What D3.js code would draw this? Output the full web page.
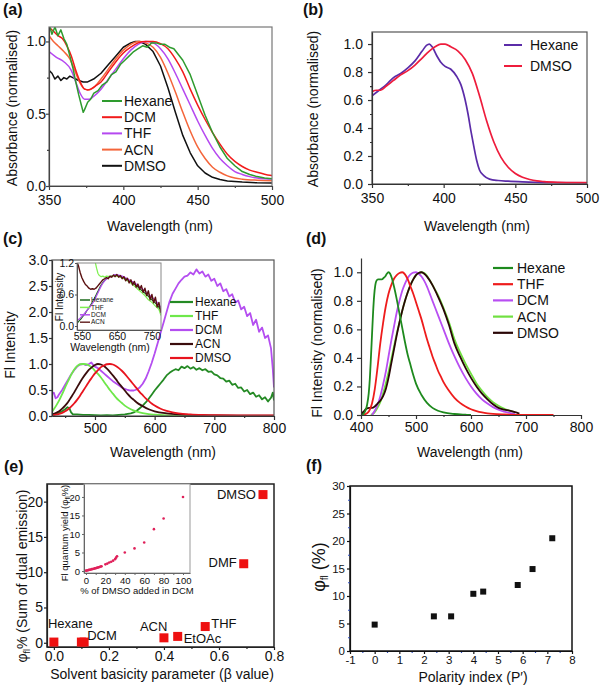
<!DOCTYPE html>
<html><head><meta charset="utf-8">
<script src="https://cdn.jsdelivr.net/npm/d3@7"></script>
<style>
body{margin:0;background:#fff;}
svg{display:block;font-family:"Liberation Sans",Arial,sans-serif;}
</style></head><body>
<svg id="chart" width="600" height="685"></svg>
<script>
// ---------------- DATA ----------------
// (a) absorbance, normalised  [wavelength nm, value]
const aHexane=[[350,1.12],[352,1.05],[354,1.1],[356,1.04],[358,1.08],[360,1.02],[362,0.98],[364,0.9],[366,0.82],[368,0.72],[370,0.63],[372,0.55],[373,0.51],[374,0.53],[376,0.58],[378,0.6],[380,0.64],[383,0.66],[386,0.7],[389,0.72],[392,0.77],[395,0.79],[398,0.84],[401,0.87],[404,0.9],[407,0.93],[410,0.95],[413,0.97],[416,0.96],[419,0.99],[422,0.99],[425,0.98],[428,0.98],[431,0.96],[434,0.95],[437,0.91],[440,0.87],[445,0.77],[450,0.63],[455,0.49],[460,0.37],[465,0.27],[470,0.19],[475,0.14],[480,0.1],[485,0.08],[490,0.065],[495,0.055],[500,0.05]];
const aDCM=[[350,1.1],[353,1.07],[356,1.04],[359,1.02],[362,0.97],[365,0.9],[368,0.8],[371,0.72],[374,0.67],[376,0.665],[378,0.67],[381,0.69],[385,0.72],[390,0.79],[395,0.86],[400,0.92],[405,0.96],[410,0.99],[415,1.0],[420,1.0],[425,0.985],[430,0.95],[435,0.88],[440,0.79],[445,0.67],[450,0.56],[455,0.46],[460,0.37],[465,0.29],[470,0.22],[475,0.17],[480,0.135],[485,0.11],[490,0.095],[495,0.082],[500,0.072]];
const aTHF=[[350,0.93],[355,0.89],[360,0.86],[365,0.8],[368,0.72],[371,0.64],[374,0.6],[377,0.6],[380,0.62],[385,0.67],[390,0.74],[395,0.81],[400,0.88],[405,0.94],[410,0.98],[415,1.0],[420,0.99],[425,0.95],[430,0.88],[435,0.78],[440,0.67],[445,0.56],[450,0.45],[455,0.35],[460,0.26],[465,0.19],[470,0.14],[475,0.1],[480,0.08],[485,0.065],[490,0.055],[495,0.05],[500,0.048]];
const aACN=[[350,1.04],[353,1.0],[356,0.97],[360,0.93],[364,0.88],[368,0.78],[371,0.71],[374,0.67],[377,0.665],[380,0.68],[385,0.74],[390,0.81],[395,0.88],[400,0.94],[405,0.98],[410,1.0],[415,0.99],[420,0.96],[425,0.89],[430,0.78],[435,0.65],[440,0.51],[445,0.38],[450,0.27],[455,0.19],[460,0.13],[465,0.095],[470,0.07],[475,0.055],[480,0.047],[490,0.04],[500,0.037]];
const aDMSO=[[350,0.8],[352,0.78],[354,0.74],[356,0.76],[358,0.73],[360,0.75],[362,0.74],[364,0.76],[366,0.75],[368,0.74],[370,0.73],[373,0.72],[376,0.72],[380,0.74],[385,0.78],[390,0.84],[395,0.9],[400,0.96],[405,0.99],[408,1.0],[411,1.0],[415,0.98],[420,0.93],[425,0.83],[430,0.68],[435,0.51],[440,0.35],[445,0.23],[450,0.14],[455,0.09],[460,0.06],[465,0.045],[470,0.035],[480,0.027],[490,0.022],[500,0.02]];

// (b) absorbance, normalised
const bHexane=[[350,0.63],[355,0.67],[360,0.71],[365,0.76],[370,0.79],[375,0.83],[380,0.88],[385,0.95],[388,0.99],[390,1.0],[392,0.98],[395,0.92],[398,0.87],[401,0.84],[405,0.82],[409,0.77],[412,0.71],[415,0.6],[417,0.5],[419,0.38],[421,0.27],[423,0.17],[425,0.1],[428,0.06],[432,0.035],[438,0.025],[445,0.02],[455,0.015],[470,0.01],[500,0.008]];
const bDMSO=[[350,0.66],[353,0.67],[356,0.67],[360,0.7],[365,0.74],[370,0.78],[375,0.81],[380,0.85],[385,0.9],[390,0.95],[394,0.98],[398,1.0],[401,1.0],[405,0.98],[410,0.95],[415,0.89],[420,0.79],[425,0.63],[430,0.45],[435,0.3],[440,0.19],[445,0.12],[450,0.075],[455,0.048],[460,0.032],[465,0.022],[470,0.017],[480,0.012],[490,0.01],[500,0.01]];

// (c) fluorescence intensity
const cHexane=[[428,0.02],[435,0.04],[440,0.06],[445,0.09],[450,0.13],[454,0.17],[457,0.15],[460,0.07],[463,0.03],[470,0.03],[480,0.02],[490,0.02],[500,0.015],[510,0.01],[520,0.015],[530,0.01],[540,0.02],[550,0.03],[560,0.05],[565,0.07],[570,0.1],[575,0.15],[580,0.2],[585,0.26],[590,0.33],[595,0.41],[600,0.49],[605,0.56],[610,0.63],[615,0.7],[620,0.78],[625,0.83],[630,0.87],[635,0.9],[640,0.88],[645,0.95],[650,0.92],[655,0.96],[660,0.91],[665,0.94],[670,0.89],[675,0.92],[680,0.88],[685,0.9],[690,0.85],[695,0.86],[700,0.8],[705,0.78],[710,0.73],[715,0.72],[720,0.66],[725,0.68],[730,0.6],[735,0.62],[740,0.54],[745,0.55],[750,0.47],[755,0.5],[760,0.42],[765,0.45],[770,0.37],[775,0.4],[780,0.32],[785,0.36],[790,0.28],[795,0.35],[798,0.45],[800,0.3]];
const cTHF=[[428,0.08],[435,0.2],[440,0.3],[445,0.42],[450,0.55],[455,0.67],[460,0.79],[465,0.89],[470,0.96],[475,0.995],[480,1.0],[485,0.995],[490,0.97],[495,0.93],[500,0.87],[505,0.81],[510,0.74],[515,0.66],[520,0.58],[525,0.5],[530,0.43],[535,0.36],[540,0.3],[545,0.25],[550,0.2],[560,0.13],[570,0.085],[580,0.055],[590,0.035],[600,0.025],[620,0.013],[650,0.006],[700,0.003],[800,0.002]];
const cDCM=[[428,0.42],[431,0.45],[434,0.34],[437,0.36],[440,0.42],[445,0.5],[450,0.6],[455,0.7],[460,0.8],[465,0.88],[470,0.95],[475,0.99],[480,1.0],[485,0.98],[490,1.0],[494,1.03],[497,0.98],[500,0.95],[505,0.92],[510,0.87],[515,0.82],[520,0.77],[525,0.72],[530,0.67],[535,0.63],[540,0.59],[545,0.55],[550,0.52],[555,0.5],[560,0.49],[565,0.49],[570,0.51],[575,0.55],[580,0.62],[585,0.72],[590,0.86],[595,1.02],[600,1.2],[605,1.4],[610,1.6],[615,1.8],[620,2.0],[625,2.2],[630,2.35],[635,2.45],[640,2.55],[645,2.62],[650,2.68],[655,2.7],[660,2.76],[665,2.72],[670,2.82],[675,2.74],[680,2.78],[685,2.68],[690,2.72],[695,2.6],[700,2.64],[705,2.5],[710,2.55],[715,2.4],[720,2.44],[725,2.3],[730,2.34],[735,2.18],[740,2.22],[745,2.05],[750,2.1],[755,1.92],[760,1.98],[765,1.75],[770,1.85],[775,1.62],[780,1.7],[785,1.5],[790,1.55],[795,1.3],[798,0.9],[800,0.55]];
const cACN=[[428,0.03],[435,0.06],[440,0.09],[445,0.14],[450,0.2],[455,0.27],[460,0.36],[465,0.45],[470,0.55],[475,0.65],[480,0.74],[485,0.82],[490,0.89],[495,0.94],[500,0.98],[505,1.0],[510,0.99],[515,0.96],[520,0.91],[525,0.85],[530,0.78],[535,0.71],[540,0.63],[545,0.56],[550,0.49],[555,0.42],[560,0.36],[565,0.31],[570,0.26],[580,0.19],[590,0.13],[600,0.09],[620,0.05],[640,0.03],[660,0.02],[700,0.012],[750,0.008],[800,0.006]];
const cDMSO=[[428,0.01],[435,0.025],[440,0.04],[445,0.06],[450,0.09],[455,0.13],[460,0.18],[465,0.24],[470,0.31],[475,0.39],[480,0.48],[485,0.57],[490,0.66],[495,0.74],[500,0.82],[505,0.88],[510,0.94],[515,0.97],[520,0.995],[525,1.0],[530,0.99],[535,0.96],[540,0.92],[545,0.87],[550,0.81],[555,0.74],[560,0.67],[565,0.6],[570,0.53],[575,0.46],[580,0.4],[585,0.34],[590,0.29],[595,0.24],[600,0.2],[610,0.14],[620,0.1],[630,0.07],[640,0.05],[660,0.03],[680,0.02],[700,0.015],[750,0.012],[800,0.01]];
// (c) inset
const ciHexane=[[536,0.05],[545,0.12],[555,0.2],[565,0.3],[575,0.4],[585,0.52],[595,0.65],[605,0.78],[615,0.87],[625,0.92],[635,0.95],[645,0.97],[655,0.96],[665,0.93],[675,0.9],[690,0.84],[705,0.77],[720,0.68],[735,0.6],[750,0.5],[765,0.4],[776,0.3]];
const ciTHF=[[588,1.22],[592,1.1],[596,1.0],[600,0.96],[605,0.94],[610,0.95],[615,0.93],[620,0.95],[630,0.94],[640,0.96],[650,0.95],[660,0.93],[670,0.9],[680,0.86],[690,0.82],[700,0.76],[710,0.7],[720,0.64],[730,0.58],[740,0.5],[750,0.45],[760,0.38],[770,0.32],[776,0.2]];
const ciDCM=[[536,0.1],[545,0.15],[555,0.22],[565,0.3],[575,0.38],[585,0.48],[595,0.62],[605,0.76],[615,0.86],[625,0.92],[635,0.95],[645,0.98],[655,0.97],[665,0.95],[675,0.92],[690,0.86],[705,0.8],[720,0.72],[735,0.64],[750,0.55],[765,0.45],[776,0.35]];
const ciACN=[[536,1.22],[540,1.15],[545,1.02],[550,0.92],[555,0.85],[560,0.79],[565,0.76],[570,0.72],[575,0.7],[580,0.71],[585,0.7],[590,0.72],[595,0.76],[600,0.8],[605,0.84],[610,0.88],[615,0.9],[620,0.92],[625,0.9],[630,0.95],[635,0.93],[640,0.97],[645,0.94],[650,0.98],[655,0.93],[660,0.96],[665,0.9],[670,0.94],[675,0.86],[680,0.91],[685,0.82],[690,0.88],[695,0.78],[700,0.85],[705,0.74],[710,0.8],[715,0.7],[720,0.77],[725,0.64],[730,0.72],[735,0.58],[740,0.67],[745,0.5],[750,0.6],[755,0.44],[760,0.55],[765,0.36],[770,0.45],[776,0.25]];

// (d) fluorescence, normalised
const dHexane=[[400,0],[405,0.01],[408,0.03],[411,0.07],[414,0.15],[416,0.25],[418,0.4],[420,0.56],[422,0.72],[424,0.84],[426,0.91],[428,0.94],[431,0.95],[435,0.95],[438,0.95],[441,0.96],[444,0.97],[447,0.99],[450,1.0],[453,0.99],[456,0.96],[460,0.9],[465,0.81],[470,0.71],[475,0.61],[480,0.51],[485,0.42],[490,0.35],[495,0.28],[500,0.22],[510,0.14],[520,0.085],[530,0.05],[540,0.03],[550,0.018],[570,0.007],[590,0.002],[600,0]];
const dTHF=[[405,0],[410,0.01],[415,0.03],[420,0.08],[425,0.18],[430,0.33],[435,0.5],[440,0.64],[445,0.76],[450,0.85],[455,0.91],[460,0.955],[465,0.98],[470,0.995],[475,1.0],[480,0.985],[485,0.95],[490,0.9],[495,0.85],[500,0.79],[505,0.73],[510,0.67],[515,0.6],[520,0.53],[525,0.47],[530,0.41],[535,0.36],[540,0.31],[545,0.27],[550,0.23],[560,0.17],[570,0.12],[580,0.085],[590,0.06],[600,0.04],[610,0.027],[620,0.018],[630,0.012],[640,0.008],[660,0.004],[700,0.001],[750,0]];
const dDCM=[[420,0],[425,0.03],[430,0.07],[435,0.13],[440,0.21],[445,0.3],[450,0.41],[455,0.52],[460,0.62],[465,0.72],[470,0.8],[475,0.87],[480,0.92],[485,0.96],[490,0.985],[495,0.998],[500,1.0],[505,0.99],[510,0.97],[515,0.94],[520,0.9],[525,0.85],[530,0.8],[540,0.7],[550,0.6],[560,0.5],[570,0.41],[580,0.33],[590,0.26],[600,0.2],[610,0.15],[620,0.11],[630,0.08],[640,0.055],[650,0.037],[660,0.024],[670,0.015],[680,0.008]];
const dACN=[[418,0],[425,0.02],[430,0.05],[435,0.09],[440,0.15],[445,0.22],[450,0.3],[455,0.39],[460,0.48],[465,0.57],[470,0.65],[475,0.73],[480,0.8],[485,0.86],[490,0.91],[495,0.95],[500,0.98],[505,0.995],[510,1.0],[515,0.995],[520,0.975],[525,0.945],[530,0.91],[540,0.84],[550,0.75],[560,0.65],[570,0.53],[580,0.44],[590,0.36],[600,0.29],[610,0.22],[620,0.17],[630,0.125],[640,0.09],[650,0.065],[660,0.045],[670,0.03],[680,0.02]];
const dDMSO=[[400,0],[405,0.025],[410,0.045],[415,0.05],[420,0.05],[425,0.06],[430,0.08],[435,0.1],[440,0.13],[445,0.18],[450,0.26],[455,0.36],[460,0.46],[465,0.56],[470,0.65],[475,0.73],[480,0.8],[485,0.86],[490,0.91],[495,0.95],[500,0.98],[505,0.995],[510,1.0],[515,0.99],[520,0.97],[530,0.91],[540,0.83],[550,0.74],[560,0.63],[570,0.5],[580,0.41],[590,0.33],[600,0.26],[610,0.2],[620,0.15],[630,0.11],[640,0.075],[650,0.05],[660,0.038],[670,0.03],[680,0.02],[688,0.01]];

// (e) quantum yield vs solvent basicity
const eSolvents=["Hexane","DCM","DCM","ACN","EtOAc","THF","DMF","DMSO"];
const eBeta=[0.0,0.10,0.11,0.40,0.45,0.55,0.69,0.76];
const eQY=[0.1,0.1,0.1,0.7,0.9,2.3,11.2,21.0];
// (e) inset: % DMSO in DCM vs QY
const eiPct=[0,1,2,3,4,5,6,7,8,9,10,11,12,13,14,15,16,20,22,24,26,28,30,31,32,40,50,60,70,80,100];
const eiQY=[0.1,0.15,0.2,0.3,0.35,0.4,0.5,0.55,0.6,0.7,0.75,0.85,0.9,1.0,1.1,1.2,1.25,1.8,2.0,2.3,2.5,2.8,3.2,3.6,4.0,5.0,6.1,7.7,11.3,14.2,20.0];

// (f) quantum yield vs polarity index
const fPolarity=[0,2.4,3.1,4.0,4.4,5.8,6.4,7.2];
const fQY=[4.8,6.3,6.3,10.4,10.8,12.0,14.9,20.5];

// ---------------- DRAWING ----------------
const FONT='"Liberation Sans",Arial,sans-serif';
const svg=d3.select('#chart');
const defs=svg.append('defs');

function styleAxis(sel,color,width,fs){
  sel.attr('font-family',null).attr('font-size',null);
  sel.select('.domain').attr('stroke',color).attr('stroke-width',width);
  sel.selectAll('.tick line').attr('stroke',color).attr('stroke-width',width);
  sel.selectAll('.tick text').attr('font-size',fs).attr('fill','#111').attr('font-family',FONT);
}

function panel(o){
  const x=d3.scaleLinear().domain(o.xd).range([o.x0,o.x1]);
  const y=d3.scaleLinear().domain(o.yd).range([o.y1,o.y0]);
  const g=svg.append('g');
  const cid='clip-'+o.id;
  defs.append('clipPath').attr('id',cid).append('rect')
    .attr('x',o.x0).attr('y',o.y0).attr('width',o.x1-o.x0).attr('height',o.y1-o.y0);
  if(o.bg) g.append('rect').attr('x',o.x0).attr('y',o.y0).attr('width',o.x1-o.x0).attr('height',o.y1-o.y0).attr('fill',o.bg);
  const plot=g.append('g').attr('clip-path',`url(#${cid})`);
  const ax=g.append('g');
  const col=o.axColor||'#333', w=o.axWidth||1.2, fs=o.fs||14;
  const minorCol=o.minorColor||col;
  if(o.box){
    ax.append('rect').attr('x',o.x0).attr('y',o.y0).attr('width',o.x1-o.x0).attr('height',o.y1-o.y0)
      .attr('fill','none').attr('stroke',o.boxColor||col).attr('stroke-width',o.boxWidth||w);
  }
  if(o.xMinor){
    ax.append('g').attr('transform',`translate(0,${o.y1})`)
      .call(d3.axisBottom(x).tickValues(o.xMinor).tickSize(o.minorLen||2).tickFormat(''))
      .call(s=>{styleAxis(s,minorCol,w,fs);s.select('.domain').remove();});
  }
  if(o.yMinor){
    ax.append('g').attr('transform',`translate(${o.x0},0)`)
      .call(d3.axisLeft(y).tickValues(o.yMinor).tickSize(o.minorLen||2).tickFormat(''))
      .call(s=>{styleAxis(s,minorCol,w,fs);s.select('.domain').remove();});
  }
  const xa=d3.axisBottom(x).tickValues(o.xt).tickSizeInner(o.xTick).tickSizeOuter(0).tickPadding(o.xPad).tickFormat(o.xf||d3.format('d'));
  ax.append('g').attr('transform',`translate(0,${o.y1})`).call(xa).call(s=>styleAxis(s,col,w,fs));
  const ya=d3.axisLeft(y).tickValues(o.yt).tickSizeInner(o.yTick).tickSizeOuter(0).tickPadding(o.yPad).tickFormat(o.yf||d3.format('.1f'));
  ax.append('g').attr('transform',`translate(${o.x0},0)`).call(ya).call(s=>styleAxis(s,col,w,fs));
  return {x,y,g,plot,ax};
}

function drawLine(p,data,color,width,curve){
  p.plot.append('path').datum(data)
    .attr('fill','none').attr('stroke',color).attr('stroke-width',width).attr('stroke-linejoin','round')
    .attr('d',d3.line().x(d=>p.x(d[0])).y(d=>p.y(d[1])).curve(curve||d3.curveMonotoneX));
}

function legend(items,x0,x1,tx,y0,step,fs,lw){
  const lg=svg.append('g');
  items.forEach((it,i)=>{
    const yy=y0+i*step;
    lg.append('line').attr('x1',x0).attr('x2',x1).attr('y1',yy).attr('y2',yy).attr('stroke',it.c).attr('stroke-width',lw);
    lg.append('text').attr('x',tx).attr('y',yy).attr('dy','0.35em').attr('font-size',fs).attr('fill','#111').attr('font-family',FONT).text(it.n);
  });
}

function text(x,y,str,fs,opt={}){
  const t=svg.append('text').attr('x',x).attr('y',y).attr('font-size',fs).attr('fill','#111').attr('font-family',FONT)
    .attr('text-anchor',opt.anchor||'start').attr('font-weight',opt.bold?'bold':null);
  t.text(str);return t;
}
function vtext(x,y,str,fs){
  return svg.append('text').attr('transform',`translate(${x},${y}) rotate(-90)`).attr('text-anchor','middle')
    .attr('font-size',fs).attr('fill','#111').attr('font-family',FONT).text(str);
}
const asciiInt=d=>String(d);

// ---- (a) ----
const pa=panel({id:'a',x0:49,x1:272,y0:27,y1:186,xd:[350,500],yd:[0,1.1],
  xt:[350,400,450,500],yt:[0,0.5,1.0],xMinor:[375,425,475],yMinor:[0.25,0.75],
  xTick:4,xPad:5,yTick:3,yPad:0,box:true,axColor:'#444',boxColor:'#777'});
const aSeries=[{n:'Hexane',d:aHexane,c:'#2e9b2e'},{n:'DCM',d:aDCM,c:'#f21b1b'},{n:'THF',d:aTHF,c:'#b548f0'},{n:'ACN',d:aACN,c:'#f4653a'},{n:'DMSO',d:aDMSO,c:'#111'}];
[aSeries[4],aSeries[3],aSeries[2],aSeries[1],aSeries[0]].forEach(s=>drawLine(pa,s.d,s.c,1.5,s.n==='Hexane'||s.n==='DMSO'?d3.curveLinear:d3.curveMonotoneX));
legend(aSeries,102,122,124,101,16.2,14,2);
text(3,15,'(a)',16,{bold:true});
vtext(17,108,'Absorbance (normalised)',14);
text(160,231,'Wavelength (nm)',14,{anchor:'middle'});

// ---- (b) ----
const pb=panel({id:'b',x0:372,x1:587,y0:32,y1:184,xd:[350,500],yd:[0,1.086],
  xt:[350,400,450,500],yt:[0,0.2,0.4,0.6,0.8,1.0],xMinor:[375,425,475],yMinor:[0.1,0.3,0.5,0.7,0.9],
  xTick:4,xPad:5,yTick:4,yPad:5,box:true,axColor:'#333',boxColor:'#555'});
const bSeries=[{n:'Hexane',d:bHexane,c:'#5b2ca8'},{n:'DMSO',d:bDMSO,c:'#ee1c3c'}];
bSeries.forEach(s=>drawLine(pb,s.d,s.c,1.7));
legend(bSeries,504,522,530,45,21,14,2);
text(303,15,'(b)',16,{bold:true});
vtext(318,109,'Absorbance (normalised)',14);
text(477,231,'Wavelength (nm)',14,{anchor:'middle'});

// ---- (c) ----
const pc=panel({id:'c',x0:52,x1:274,y0:260,y1:416,xd:[428,800],yd:[0,3.0],
  xt:[500,600,700,800],yt:[0,0.5,1.0,1.5,2.0,2.5,3.0],xMinor:[450,550,650,750],
  xTick:4,xPad:3,yTick:3,yPad:1,box:true,axColor:'#333',boxColor:'#555'});
const cSeries=[{n:'Hexane',d:cHexane,c:'#248a24'},{n:'THF',d:cTHF,c:'#6ee84a'},{n:'DCM',d:cDCM,c:'#b44ef0'},{n:'ACN',d:cACN,c:'#3a0c0c'},{n:'DMSO',d:cDMSO,c:'#e8141e'}];
drawLine(pc,cHexane,'#248a24',1.8,d3.curveLinear);
drawLine(pc,cDCM,'#b44ef0',1.8,d3.curveLinear);
drawLine(pc,cTHF,'#6ee84a',1.8);
drawLine(pc,cACN,'#3a0c0c',1.8);
drawLine(pc,cDMSO,'#e8141e',1.8);
legend(cSeries,170,193,195,302,14,12,2.2);
// inset (c)
const pci=panel({id:'ci',x0:77,x1:161,y0:263,y1:330,xd:[536,776],yd:[-0.076,1.2],
  xt:[550,650,750],yt:[0,0.6,1.2],xTick:2,xPad:1,yTick:2,yPad:1,box:true,axColor:'#555',boxColor:'#888',fs:10.5,axWidth:1,bg:'#fff'});
drawLine(pci,ciHexane,'#1a6a1a',1.2);
drawLine(pci,ciDCM,'#b44ef0',1.2);
drawLine(pci,ciTHF,'#7ef050',1.2,d3.curveLinear);
drawLine(pci,ciACN,'#5a1010',1.4,d3.curveLinear);
legend([{n:'Hexane',c:'#1a6a1a'},{n:'THF',c:'#7ef050'},{n:'DCM',c:'#b44ef0'},{n:'ACN',c:'#6a2a2a'}],80,90,91,300,7.4,6.5,1.5);
svg.append('text').attr('transform','translate(63,297) rotate(-90)').attr('text-anchor','middle')
  .attr('font-size',10).attr('fill','#111').attr('font-family',FONT).text('Fl Intensity');
text(110,351,'Wavelength (nm)',10.5,{anchor:'middle'});
text(3,244,'(c)',16,{bold:true});
vtext(15,345,'Fl Intensity',14);
text(163,457,'Wavelength (nm)',14,{anchor:'middle'});

// ---- (d) ----
const pd=panel({id:'d',x0:361,x1:581,y0:258,y1:415,xd:[400,800],yd:[0,1.1],
  xt:[400,500,600,700,800],yt:[0,0.2,0.4,0.6,0.8,1.0],xMinor:[450,550,650,750],
  xTick:4,xPad:3,yTick:4,yPad:4,box:false,axColor:'#333'});
const dSeries=[{n:'Hexane',d:dHexane,c:'#1e8a1e'},{n:' THF',d:dTHF,c:'#ee1c1c'},{n:'DCM',d:dDCM,c:'#b84ef2'},{n:'ACN',d:dACN,c:'#70e040'},{n:'DMSO',d:dDMSO,c:'#2a0606'}];
[dSeries[3],dSeries[2],dSeries[4],dSeries[1],dSeries[0]].forEach(s=>drawLine(pd,s.d,s.c,1.8));
legend(dSeries,493,513,517,268,16.2,14,2.2);
text(306,244,'(d)',16,{bold:true});
vtext(322,343,'Fl Intensity (normalised)',14);
text(470,457,'Wavelength (nm)',14,{anchor:'middle'});

// ---- (e) ----
const pe=panel({id:'e',x0:47,x1:274,y0:484,y1:647,xd:[-0.025,0.8],yd:[-0.6,22.5],
  xt:[0,0.2,0.4,0.6,0.8],yt:[0,5,10,15,20],xMinor:[0.1,0.3,0.5,0.7],
  xTick:3,xPad:1,yTick:3,yPad:1,box:true,axColor:'#222',boxColor:'#222',boxWidth:1.5,xf:d3.format('.1f'),yf:asciiInt});
pe.g.append('g').selectAll('rect').data(eBeta).join('rect')
  .attr('x',(d)=>pe.x(d)-4.5).attr('y',(d,i)=>pe.y(eQY[i])-4.5).attr('width',9).attr('height',9).attr('fill','#ee1111');
// point labels (offsets relative to the plotted square)
const eLabelOff={Hexane:[-6,-14,'start'],DCM:[3,-2,'start'],ACN:[-24,-7,'start'],EtOAc:[6,7,'start'],THF:[6,1,'start'],DMF:[-7,3,'end'],DMSO:[-7,4,'end']};
const seenE={};
eSolvents.forEach((s,i)=>{
  if(s==='DCM'&&!seenE.DCM){seenE.DCM=1;return;}
  const o=eLabelOff[s];
  text(pe.x(eBeta[i])+o[0],pe.y(eQY[i])+o[1],s,13,{anchor:o[2]});
});
// inset (e)
const pei=panel({id:'ei',x0:84,x1:190,y0:484,y1:573,xd:[-2.06,107.2],yd:[-0.54,23.5],
  xt:[0,20,40,60,80,100],yt:[0,5,10,15,20],xMinor:[10,30,50,70,90],
  xTick:2,xPad:2,yTick:2,yPad:2,box:true,axColor:'#666',boxColor:'#999',fs:9.5,axWidth:1,bg:'#fff',yf:asciiInt,xf:asciiInt});
pei.plot.selectAll('circle').data(eiPct).join('circle')
  .attr('cx',d=>pei.x(d)).attr('cy',(d,i)=>pei.y(eiQY[i])).attr('r',1.3).attr('fill','#e0205a');
text(137,594,'% of DMSO added in DCM',9.5,{anchor:'middle'});
{
  const t=svg.append('text').attr('transform','translate(68,533) rotate(-90)').attr('text-anchor','middle')
    .attr('font-size',9.5).attr('fill','#111').attr('font-family',FONT);
  t.append('tspan').text('Fl quantum yield (φ');
  t.append('tspan').attr('font-size',6.5).attr('dy',2).text('fl');
  t.append('tspan').attr('dy',-2).text('%)');
}
text(4,472,'(e)',16,{bold:true});
{
  const t=svg.append('text').attr('transform','translate(27,576) rotate(-90)').attr('text-anchor','middle')
    .attr('font-size',14).attr('fill','#111').attr('font-family',FONT);
  t.append('tspan').text('φ');
  t.append('tspan').attr('font-size',9).attr('dy',3).text('fl');
  t.append('tspan').attr('dy',-3).text('% (Sum of dual emission)');
}
text(162,679,'Solvent basicity parameter (β value)',14,{anchor:'middle'});

// ---- (f) ----
const pf=panel({id:'f',x0:350,x1:572,y0:486,y1:651,xd:[-1,8],yd:[0,30],
  xt:[-1,0,1,2,3,4,5,6,7,8],yt:[0,5,10,15,20,25,30],xMinor:[-0.5,0.5,1.5,2.5,3.5,4.5,5.5,6.5,7.5],yMinor:[2.5,7.5,12.5,17.5,22.5,27.5],
  xTick:3,xPad:2,yTick:3,yPad:2,box:true,axColor:'#111',boxColor:'#111',boxWidth:1.5,minorColor:'#3050c0',minorLen:2,fs:11.5,yf:asciiInt,xf:asciiInt});
pf.g.append('g').selectAll('rect').data(fPolarity).join('rect')
  .attr('x',d=>pf.x(d)-3).attr('y',(d,i)=>pf.y(fQY[i])-3).attr('width',6).attr('height',6).attr('fill','#111');
text(306,471,'(f)',16,{bold:true});
{
  const t=svg.append('text').attr('transform','translate(325,567) rotate(-90)').attr('text-anchor','middle')
    .attr('font-size',18).attr('fill','#111').attr('font-family',FONT);
  t.append('tspan').text('φ');
  t.append('tspan').attr('font-size',10).attr('dy',3).text('fl');
  t.append('tspan').attr('dy',-3).text(' (%)');
}
text(473,682,'Polarity index (P′)',14,{anchor:'middle'});
</script>
</body></html>
